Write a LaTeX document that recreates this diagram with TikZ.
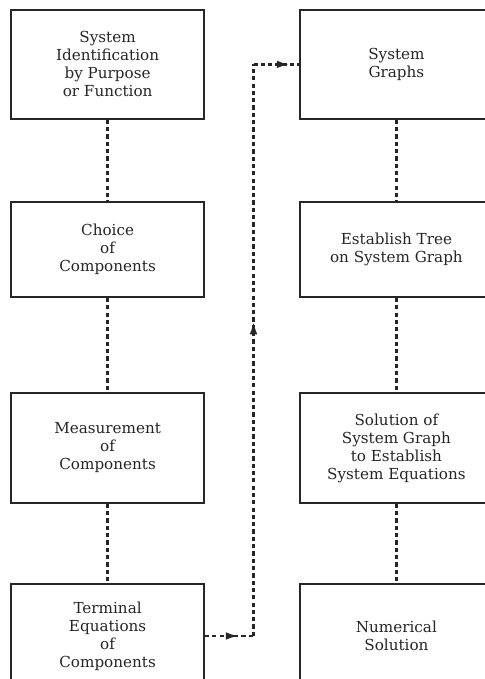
\documentclass[tikz,border=0pt]{standalone}
\usepackage{fontspec}
\setmainfont{DejaVu Serif}
\usetikzlibrary{arrows.meta,decorations.markings}

\begin{document}
\begin{tikzpicture}[line width=1.2pt,draw=black!85,text=black!85,
    block/.style={draw,align=center,minimum width=4.825cm,inner sep=2pt,
      font=\fontsize{10.8}{12.8}\selectfont},
    link/.style={line width=1.6pt,dash pattern=on 3pt off 2.2pt},
    midarrow/.style={postaction={decorate},decoration={markings,
      mark=at position #1 with {\arrow{Latex[length=9pt,width=5.5pt]}}}}]
    \useasboundingbox (0,0) rectangle (12.125,-16.975);
    \clip (0,0) rectangle (12.125,-16.975);
    % left column
    \node[block,minimum height=2.725cm] (sysid) at (2.69,-1.61) {System\\Identification\\by Purpose\\or Function};
    \node[block,minimum height=2.375cm] (choice) at (2.69,-6.24) {Choice\\of\\Components};
    \node[block,minimum height=2.75cm] (measure) at (2.69,-11.2) {Measurement\\of\\Components};
    \node[block,minimum height=2.6cm] (terminal) at (2.69,-15.9) {Terminal\\Equations\\of\\Components};
    % right column
    \node[block,minimum height=2.725cm] (graphs) at (9.91,-1.61) {System\\Graphs};
    \node[block,minimum height=2.375cm] (tree) at (9.91,-6.24) {Establish Tree\\on System Graph};
    \node[block,minimum height=2.75cm] (solution) at (9.91,-11.2) {Solution of\\System Graph\\to Establish\\System Equations};
    \node[block,minimum height=2.6cm] (numeric) at (9.91,-15.9) {Numerical\\Solution};
    \draw[link](sysid)--(choice);
    \draw[link](choice)--(measure);
    \draw[link](measure)--(terminal);
    \draw[link](graphs)--(tree);
    \draw[link](tree)--(solution);
    \draw[link](solution)--(numeric);
    % crossover
    \coordinate (turnlow) at (6.3375,0 |- terminal.east);
    \coordinate (turnhigh) at (6.3375,0 |- graphs.west);
    \draw[link,midarrow=0.69](terminal.east)--(turnlow);
    \draw[link,midarrow=0.55](turnlow)--(turnhigh);
    \draw[link,midarrow=0.79](turnhigh)--(graphs.west);
\end{tikzpicture}
\end{document}
